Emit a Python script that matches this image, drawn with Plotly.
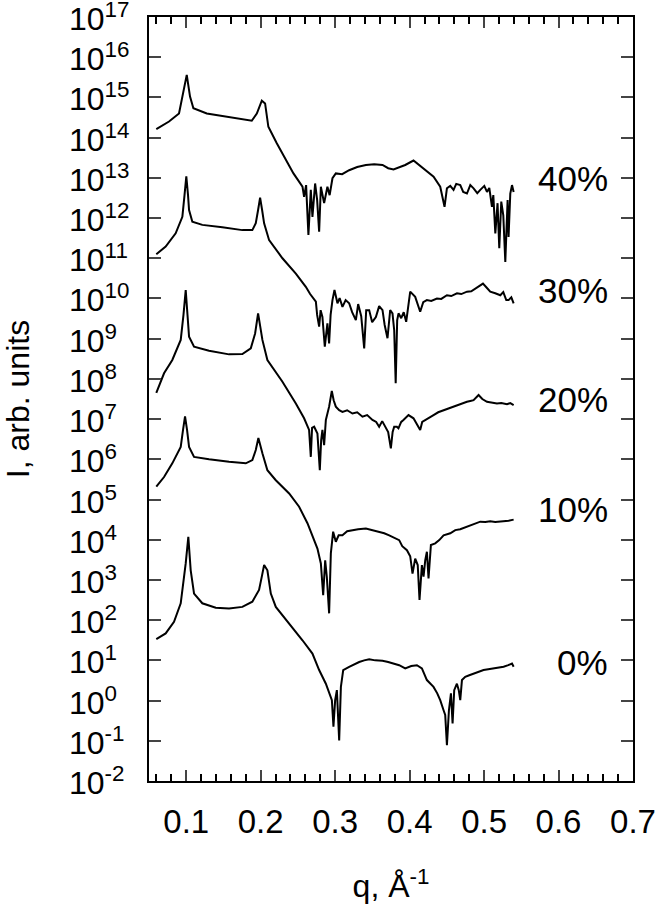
import plotly.graph_objects as go

# q in 1/Angstrom, intensity stored as log10(I)
q_40 = [0.0598, 0.0769, 0.0903, 0.0952, 0.1007, 0.1051, 0.1096, 0.1276, 0.1633, 0.188,
        0.1948, 0.2015, 0.2059, 0.2103, 0.2216, 0.244, 0.2561, 0.2583, 0.261, 0.2641,
        0.2673, 0.2695, 0.2731, 0.2758, 0.2785, 0.2808, 0.2852, 0.2896, 0.2926, 0.2964,
        0.3009, 0.3094, 0.3188, 0.3296, 0.3413, 0.3524, 0.3636, 0.3712, 0.3784, 0.386,
        0.3941, 0.4052, 0.4116, 0.4187, 0.4322, 0.4411, 0.4469, 0.4501, 0.4546, 0.459,
        0.4626, 0.468, 0.472, 0.477, 0.4815, 0.4859, 0.4909, 0.4949, 0.5003, 0.5039,
        0.507, 0.5106, 0.5124, 0.5151, 0.5181, 0.5204, 0.5231, 0.5258, 0.5285, 0.5316,
        0.5329, 0.5352, 0.5375, 0.5397]
log_i_40 = [14.21, 14.40, 14.60, 15.02, 15.56, 15.02, 14.73, 14.60, 14.50, 14.42,
            14.60, 14.92, 14.85, 14.27, 13.86, 13.11, 12.78, 12.53, 12.82, 11.58,
            12.70, 12.03, 12.86, 12.45, 11.66, 12.78, 12.37, 12.78, 12.57, 12.99,
            13.11, 13.09, 13.19, 13.27, 13.32, 13.34, 13.32, 13.24, 13.21, 13.27,
            13.32, 13.43, 13.34, 13.24, 13.03, 12.78, 12.28, 12.74, 12.80, 12.70,
            12.85, 12.82, 12.65, 12.61, 12.82, 12.74, 12.62, 12.70, 12.80, 12.65,
            12.75, 12.28, 12.57, 11.62, 12.37, 11.25, 12.41, 12.07, 10.91, 12.45,
            11.53, 12.61, 12.82, 12.65]

q_30 = [0.0598, 0.0724, 0.0858, 0.0948, 0.0977, 0.1001, 0.1024, 0.1038, 0.1082, 0.1216,
        0.1485, 0.1754, 0.1888, 0.1934, 0.1965, 0.1992, 0.2019, 0.2046, 0.2113, 0.2292,
        0.2472, 0.2606, 0.2664, 0.2695, 0.2741, 0.2758, 0.2785, 0.2805, 0.2829, 0.2861,
        0.2896, 0.2919, 0.2939, 0.2964, 0.2991, 0.3031, 0.306, 0.3098, 0.3141, 0.3188,
        0.3228, 0.3278, 0.3309, 0.335, 0.339, 0.3417, 0.3457, 0.3497, 0.3547, 0.3591,
        0.3636, 0.3665, 0.3703, 0.3739, 0.377, 0.3793, 0.3813, 0.3833, 0.3851, 0.3887,
        0.3921, 0.3954, 0.3981, 0.4008, 0.4075, 0.4116, 0.4142, 0.4183, 0.4232, 0.429,
        0.4367, 0.4425, 0.4501, 0.4559, 0.4636, 0.4694, 0.477, 0.4828, 0.4882, 0.4936,
        0.4985, 0.503, 0.5083, 0.515, 0.5218, 0.5258, 0.5298, 0.5329, 0.5366, 0.5397]
log_i_30 = [11.10, 11.29, 11.62, 12.03, 12.57, 13.04, 12.57, 12.20, 11.91, 11.83,
            11.77, 11.70, 11.70, 11.87, 12.20, 12.51, 12.20, 11.87, 11.45, 11.00,
            10.62, 10.29, 10.11, 10.04, 9.92, 9.59, 9.30, 9.71, 9.54, 8.80,
            9.38, 8.88, 9.59, 9.96, 10.21, 9.88, 10.01, 9.79, 9.96, 9.88,
            9.66, 9.46, 9.86, 9.56, 8.76, 9.71, 9.71, 9.41, 9.54, 9.81,
            9.71, 9.34, 9.01, 9.71, 9.63, 9.21, 7.89, 9.46, 9.63, 9.51,
            9.66, 9.42, 9.84, 10.17, 10.04, 9.84, 9.67, 9.91, 9.96, 9.94,
            10.00, 9.99, 10.08, 10.06, 10.13, 10.11, 10.17, 10.18, 10.25, 10.31,
            10.37, 10.28, 10.17, 10.13, 10.08, 10.16, 9.96, 9.96, 10.03, 9.88]

q_20 = [0.0598, 0.0702, 0.0813, 0.0926, 0.0963, 0.0993, 0.1017, 0.1038, 0.1105, 0.1306,
        0.1575, 0.1754, 0.1867, 0.1925, 0.1965, 0.1992, 0.2023, 0.209, 0.2292, 0.2472,
        0.2583, 0.265, 0.2673, 0.269, 0.2718, 0.2762, 0.2778, 0.2794, 0.2812, 0.2829,
        0.2852, 0.2875, 0.2919, 0.2955, 0.298, 0.3009, 0.3054, 0.3098, 0.3161, 0.3232,
        0.3296, 0.3367, 0.343, 0.3501, 0.3551, 0.3591, 0.3632, 0.3681, 0.3712, 0.3748,
        0.3772, 0.3793, 0.3829, 0.385, 0.3887, 0.3917, 0.3985, 0.4052, 0.4102, 0.4142,
        0.4169, 0.421, 0.4263, 0.4321, 0.4384, 0.4456, 0.4519, 0.459, 0.4653, 0.4707,
        0.477, 0.4815, 0.4859, 0.4926, 0.4976, 0.5039, 0.5097, 0.5173, 0.5231, 0.5308,
        0.5352, 0.5397]
log_i_20 = [7.65, 8.14, 8.47, 8.97, 9.59, 10.21, 9.59, 9.05, 8.80, 8.70,
            8.61, 8.62, 8.76, 9.13, 9.63, 9.34, 8.97, 8.47, 7.93, 7.39,
            7.02, 6.73, 6.06, 6.78, 6.81, 6.64, 6.23, 5.73, 6.48, 6.73,
            6.35, 6.98, 7.31, 7.70, 7.47, 7.31, 7.22, 7.18, 7.22, 7.14,
            7.17, 7.06, 7.10, 6.98, 6.93, 6.81, 6.95, 6.77, 6.68, 6.27,
            6.68, 6.81, 6.81, 6.77, 6.93, 6.98, 7.10, 7.02, 6.85, 6.73,
            6.93, 6.98, 7.05, 7.10, 7.17, 7.22, 7.25, 7.31, 7.35, 7.40,
            7.43, 7.45, 7.47, 7.60, 7.50, 7.43, 7.42, 7.39, 7.40, 7.37,
            7.40, 7.35]

q_10 = [0.0598, 0.0702, 0.0813, 0.0926, 0.0957, 0.0984, 0.1011, 0.1038, 0.1105, 0.1306,
        0.1575, 0.18, 0.1888, 0.1934, 0.1969, 0.1999, 0.2023, 0.209, 0.2203, 0.2382,
        0.2516, 0.2628, 0.2695, 0.2762, 0.2808, 0.2839, 0.2866, 0.2888, 0.2919, 0.2942,
        0.2973, 0.3009, 0.3047, 0.3098, 0.3161, 0.3232, 0.3309, 0.3413, 0.3497, 0.3591,
        0.3659, 0.3726, 0.3793, 0.386, 0.3901, 0.3964, 0.4008, 0.4039, 0.4075, 0.4109,
        0.4133, 0.4165, 0.4187, 0.421, 0.4232, 0.4254, 0.4286, 0.4344, 0.4398, 0.4456,
        0.4546, 0.4613, 0.468, 0.4747, 0.4815, 0.4882, 0.4949, 0.5016, 0.5083, 0.515,
        0.5218, 0.5271, 0.5329, 0.5397]
log_i_10 = [5.32, 5.56, 5.90, 6.31, 6.73, 7.07, 6.73, 6.31, 6.06, 6.00,
            5.94, 5.90, 5.98, 6.23, 6.53, 6.35, 6.15, 5.73, 5.48, 5.15,
            4.82, 4.41, 4.07, 3.78, 3.41, 2.62, 3.49, 3.08, 2.17, 3.66,
            4.20, 3.95, 4.11, 4.11, 4.21, 4.24, 4.26, 4.28, 4.24, 4.20,
            4.16, 4.11, 4.04, 3.99, 3.84, 3.74, 3.59, 3.16, 3.53, 3.37,
            2.50, 3.37, 3.08, 3.49, 3.70, 3.04, 3.87, 3.91, 3.99, 4.11,
            4.16, 4.24, 4.26, 4.31, 4.36, 4.41, 4.45, 4.44, 4.46, 4.44,
            4.45, 4.46, 4.47, 4.50]

q_0 = [0.0598, 0.0724, 0.0836, 0.0926, 0.0993, 0.1028, 0.106, 0.1105, 0.1216, 0.1396,
       0.1575, 0.1754, 0.1888, 0.1978, 0.2019, 0.2046, 0.209, 0.2136, 0.2203, 0.2382,
       0.2561, 0.2695, 0.2785, 0.2875, 0.2919, 0.2956, 0.2977, 0.3, 0.3023, 0.3054,
       0.3077, 0.3108, 0.3188, 0.3255, 0.3323, 0.339, 0.3457, 0.3538, 0.3636, 0.3712,
       0.3784, 0.386, 0.3941, 0.4022, 0.4098, 0.4165, 0.4232, 0.4277, 0.4321, 0.4371,
       0.4411, 0.4456, 0.4478, 0.4501, 0.4528, 0.4555, 0.4577, 0.4599, 0.4635, 0.466,
       0.468, 0.4703, 0.4747, 0.4801, 0.4859, 0.4922, 0.4993, 0.5056, 0.5128, 0.5191,
       0.5262, 0.5325, 0.5375, 0.5397]
log_i_0 = [1.53, 1.67, 1.96, 2.42, 3.41, 4.07, 3.24, 2.66, 2.42, 2.31,
           2.29, 2.33, 2.46, 2.75, 3.12, 3.37, 3.24, 2.66, 2.33, 1.92,
           1.50, 1.17, 0.76, 0.42, 0.18, 0.01, -0.65, 0.01, 0.26, -0.99,
           0.34, 0.76, 0.84, 0.91, 0.96, 1.00, 1.03, 1.00, 0.99, 0.96,
           0.92, 0.88, 0.80, 0.86, 0.88, 0.80, 0.51, 0.43, 0.34, 0.18,
           0.01, -0.24, -0.36, -1.11, -0.24, 0.18, -0.57, 0.26, 0.42, 0.26,
           0.01, 0.51, 0.59, 0.63, 0.67, 0.73, 0.76, 0.78, 0.80, 0.83,
           0.84, 0.88, 0.92, 0.84]

series_labels = ["40%", "30%", "20%", "10%", "0%"]
label_log_i = [12.92, 10.13, 7.42, 4.67, 0.88]
label_q = 0.669

y_exponents = list(range(-2, 18))
x_ticks = [0.1, 0.2, 0.3, 0.4, 0.5, 0.6, 0.7]

series = [(q_40, log_i_40), (q_30, log_i_30), (q_20, log_i_20),
          (q_10, log_i_10), (q_0, log_i_0)]

FONT = "Liberation Sans, Arial, sans-serif"

fig = go.Figure()
for name, (q, log_i) in zip(series_labels, series):
    fig.add_trace(go.Scatter(
        x=q, y=[10 ** v for v in log_i], mode="lines", name=name,
        line={"color": "black", "width": 2},
    ))

# percent labels at the right of each curve
for name, ly in zip(series_labels, label_log_i):
    fig.add_annotation(x=label_q, y=ly, xref="x", yref="y", text=name,
                       showarrow=False, xanchor="right", yanchor="middle",
                       yshift=3,
                       font={"size": 35, "family": FONT, "color": "black"})

# left-aligned power-of-ten tick labels
for n in y_exponents:
    fig.add_annotation(x=-0.1694, y=n, xref="paper", yref="y",
                       text=f"10<sup>{n}</sup>", showarrow=False,
                       xanchor="left", yanchor="middle",
                       font={"size": 32, "family": FONT, "color": "black"})

fig.update_layout(
    width=657, height=916,
    margin={"l": 149, "r": 24, "t": 17, "b": 135, "autoexpand": False},
    plot_bgcolor="white", paper_bgcolor="white",
    showlegend=False,
    font={"family": FONT, "size": 33, "color": "black"},
    xaxis={
        "range": [0.05, 0.7], "tickvals": x_ticks,
        "ticktext": [f"{v:.1f}" for v in x_ticks],
        "ticks": "inside", "ticklen": 11, "tickwidth": 2,
        "mirror": "ticks", "showline": True, "linewidth": 2, "linecolor": "black",
        "showgrid": False, "zeroline": False, "automargin": False,
        "ticklabelstandoff": 10,
        "minor": {"tickmode": "linear", "tick0": 0.0, "dtick": 0.02,
                  "ticks": "inside", "ticklen": 7, "tickwidth": 1.5,
                  "tickcolor": "black", "showgrid": False},
        "title": {"text": "q, Å<sup>-1</sup>", "standoff": 36,
                  "font": {"size": 32}},
    },
    yaxis={
        "type": "log", "range": [-2, 17],
        "tickvals": [10 ** n for n in y_exponents],
        "showticklabels": False,
        "ticks": "inside", "ticklen": 12, "tickwidth": 2,
        "mirror": "ticks", "showline": True, "linewidth": 2, "linecolor": "black",
        "showgrid": False, "zeroline": False, "automargin": False,
        "title": {"text": "I, arb. units", "standoff": 112,
                  "font": {"size": 32}},
    },
)

# drop the default 8px body margin so the figure fills the window exactly
fig.write_html(
    "out.html",
    config={"displayModeBar": False},
    post_script="document.body.style.margin='0';document.body.style.overflow='hidden';",
)
